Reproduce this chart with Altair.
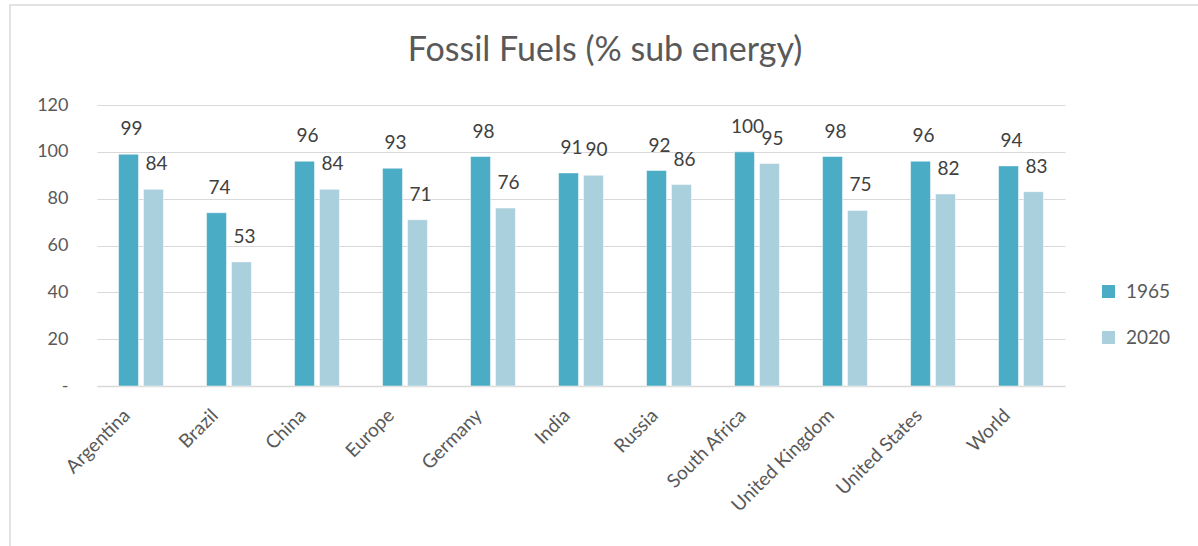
import altair as alt
import pandas as pd

countries = ["Argentina", "Brazil", "China", "Europe", "Germany", "India", "Russia",
             "South Africa", "United Kingdom", "United States", "World"]
v1965 = [99, 74, 96, 93, 98, 91, 92, 100, 98, 96, 94]
v2020 = [84, 53, 84, 71, 76, 90, 86, 95, 75, 82, 83]
years = ["1965", "2020"]
colors = ["#4BACC6", "#AACFDD"]
title_text = "Fossil Fuels (% sub energy)"

rows = []
for c, a, b in zip(countries, v1965, v2020):
    rows.append({"country": c, "year": "1965", "value": a})
    rows.append({"country": c, "year": "2020", "value": b})
df = pd.DataFrame(rows)

FONT = "Lato"
GREY = "#595959"

x = alt.X("country:N", sort=countries, title=None,
          scale=alt.Scale(paddingInner=0.49, paddingOuter=0.245),
          axis=alt.Axis(labelAngle=-45, labelAlign="right", labelBaseline="middle",
                        labelFontSize=19, labelColor=GREY, labelFont=FONT,
                        labelPadding=26, labelOffset=-14, ticks=False,
                        domainColor="#D9D9D9", domainWidth=1.5, grid=False))
xo = alt.XOffset("year:N", scale=alt.Scale(paddingInner=0.2, paddingOuter=0))
y = alt.Y("value:Q", title=None,
          scale=alt.Scale(domain=[0, 120], nice=False),
          axis=alt.Axis(values=[0, 20, 40, 60, 80, 100, 120],
                        labelExpr="datum.value == 0 ? '-' : datum.label",
                        labelFontSize=18, labelColor=GREY, labelFont=FONT,
                        labelPadding=29, ticks=False, domain=False,
                        gridColor="#D9D9D9", gridWidth=1.2))
color = alt.Color("year:N", scale=alt.Scale(domain=years, range=colors),
                  legend=alt.Legend(title=None, orient="none", legendX=1002, legendY=177,
                                    symbolType="square", symbolSize=170,
                                    symbolStrokeWidth=0,
                                    labelFontSize=19, labelColor=GREY, labelFont=FONT,
                                    rowPadding=26, labelOffset=8))

base = alt.Chart(df)
bars = base.mark_bar(stroke="white", strokeWidth=0.5).encode(x=x, xOffset=xo, y=y, color=color)
labels = base.mark_text(fontSize=19, color="#404040", font=FONT, baseline="middle",
                        dy=-25, dx=3).encode(
    x=alt.X("country:N", sort=countries), xOffset=xo, y="value:Q", text="value:Q")

single = alt.InlineData(values=[{"t": title_text}])
border = alt.Chart(single).mark_rect(
    fill=None, stroke="#D9D9D9", strokeWidth=1.5).encode(
    x=alt.value(-87), x2=alt.value(1120), y=alt.value(-100), y2=alt.value(460))
title = alt.Chart(single).mark_text(
    fontSize=34, color=GREY, font=FONT, align="center", baseline="middle").encode(
    x=alt.value(508), y=alt.value(-54), text="t:N")

chart = alt.layer(border, bars, labels, title).properties(
    width=968, height=281,
    padding={"left": 97, "top": 105, "right": 133, "bottom": 160},
    autosize=alt.AutoSizeParams(type="none"),
).configure(background="white").configure_view(stroke=None)

chart.save("out.html", embed_options={"renderer": "svg", "actions": False})
